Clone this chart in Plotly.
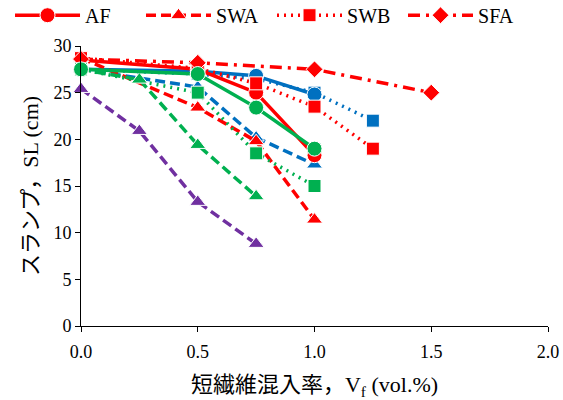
import plotly.graph_objects as go

# ---- data ----
# colour groups: red (legend), blue, green, purple
red_AF_x = [0, 0.5, 0.75, 1.0]
red_AF_y = [28.5, 27.5, 25.0, 18.3]
red_SWA_x = [0, 0.5, 0.75, 1.0]
red_SWA_y = [28.7, 23.4, 19.8, 11.4]
red_SWB_x = [0, 0.5, 0.75, 1.0, 1.25]
red_SWB_y = [28.7, 27.6, 26.0, 23.5, 19.0]
red_SFA_x = [0, 0.5, 1.0, 1.5]
red_SFA_y = [28.6, 28.2, 27.5, 25.0]

blue_AF_x = [0, 0.5, 0.75, 1.0]
blue_AF_y = [27.5, 27.3, 26.8, 24.8]
blue_SWA_x = [0, 0.5, 0.75, 1.0]
blue_SWA_y = [27.5, 25.6, 20.2, 17.3]
blue_SWB_x = [0, 0.5, 0.75, 1.0, 1.25]
blue_SWB_y = [27.5, 27.0, 26.5, 25.0, 22.0]

green_AF_x = [0, 0.5, 0.75, 1.0]
green_AF_y = [27.5, 27.0, 23.4, 19.0]
green_SWA_x = [0, 0.25, 0.5, 0.75]
green_SWA_y = [27.5, 26.4, 19.4, 13.9]
green_SWB_x = [0, 0.5, 0.75, 1.0]
green_SWB_y = [27.5, 25.0, 18.5, 15.0]

purple_SWA_x = [0, 0.25, 0.5, 0.75]
purple_SWA_y = [25.4, 20.9, 13.3, 8.8]

x_ticks = [0, 0.5, 1.0, 1.5, 2.0]
y_ticks = [0, 5, 10, 15, 20, 25, 30]

RED, BLUE, GREEN, PURPLE = "#FF0000", "#0070C0", "#00B050", "#7030A0"
DASH = {"AF": "solid", "SWA": "10px,5px", "SWB": "2px,5px", "SFA": "12px,6px,3px,6px"}
SYM = {"AF": ("circle", 15), "SWA": ("triangle-up", 14), "SWB": ("square", 13), "SFA": ("diamond", 13)}

fig = go.Figure()

def add(x, y, kind, color, legend):
    sym, size = SYM[kind]
    fig.add_trace(go.Scatter(
        x=x, y=y, mode="lines+markers", name=kind, showlegend=legend,
        line=dict(color=color, width=3.5, dash=DASH[kind]),
        marker=dict(symbol=sym, size=size, color=color, line=dict(color="white", width=1)),
        cliponaxis=False))

add(blue_SWB_x, blue_SWB_y, "SWB", BLUE, False)
add(blue_SWA_x, blue_SWA_y, "SWA", BLUE, False)
add(blue_AF_x, blue_AF_y, "AF", BLUE, False)
add(red_AF_x, red_AF_y, "AF", RED, True)
add(red_SWA_x, red_SWA_y, "SWA", RED, True)
add(red_SWB_x, red_SWB_y, "SWB", RED, True)
add(red_SFA_x, red_SFA_y, "SFA", RED, True)
add(green_SWB_x, green_SWB_y, "SWB", GREEN, False)
add(green_SWA_x, green_SWA_y, "SWA", GREEN, False)
add(green_AF_x, green_AF_y, "AF", GREEN, False)
add(purple_SWA_x, purple_SWA_y, "SWA", PURPLE, False)

FONT = "Liberation Serif, Times New Roman, Noto Sans CJK JP, serif"

fig.update_layout(
    width=563, height=400,
    margin=dict(l=81, r=15, t=46, b=74, autoexpand=False),
    paper_bgcolor="white", plot_bgcolor="white",
    font=dict(family=FONT, size=18, color="black"),
    legend=dict(orientation="h", x=-0.152, y=1.11, xanchor="left", yanchor="middle",
                font=dict(size=20), itemwidth=65, entrywidth=51,
                bgcolor="rgba(0,0,0,0)"),
    xaxis=dict(range=[0, 2.0], tickvals=x_ticks, tickformat=".1f",
               showline=True, linecolor="black", linewidth=1,
               ticks="outside", ticklen=5, tickcolor="black",
               showgrid=False, zeroline=False, ticklabelstandoff=4,
               title=dict(text="短繊維混入率，V<sub>f</sub> (vol.%)", standoff=22)),
    yaxis=dict(range=[0, 30], tickvals=y_ticks,
               showline=True, linecolor="black", linewidth=1,
               ticks="outside", ticklen=5, tickcolor="black",
               showgrid=False, zeroline=False,
               title=dict(text="スランプ，SL (cm)", standoff=8)),
)

fig.write_html("out.html")
